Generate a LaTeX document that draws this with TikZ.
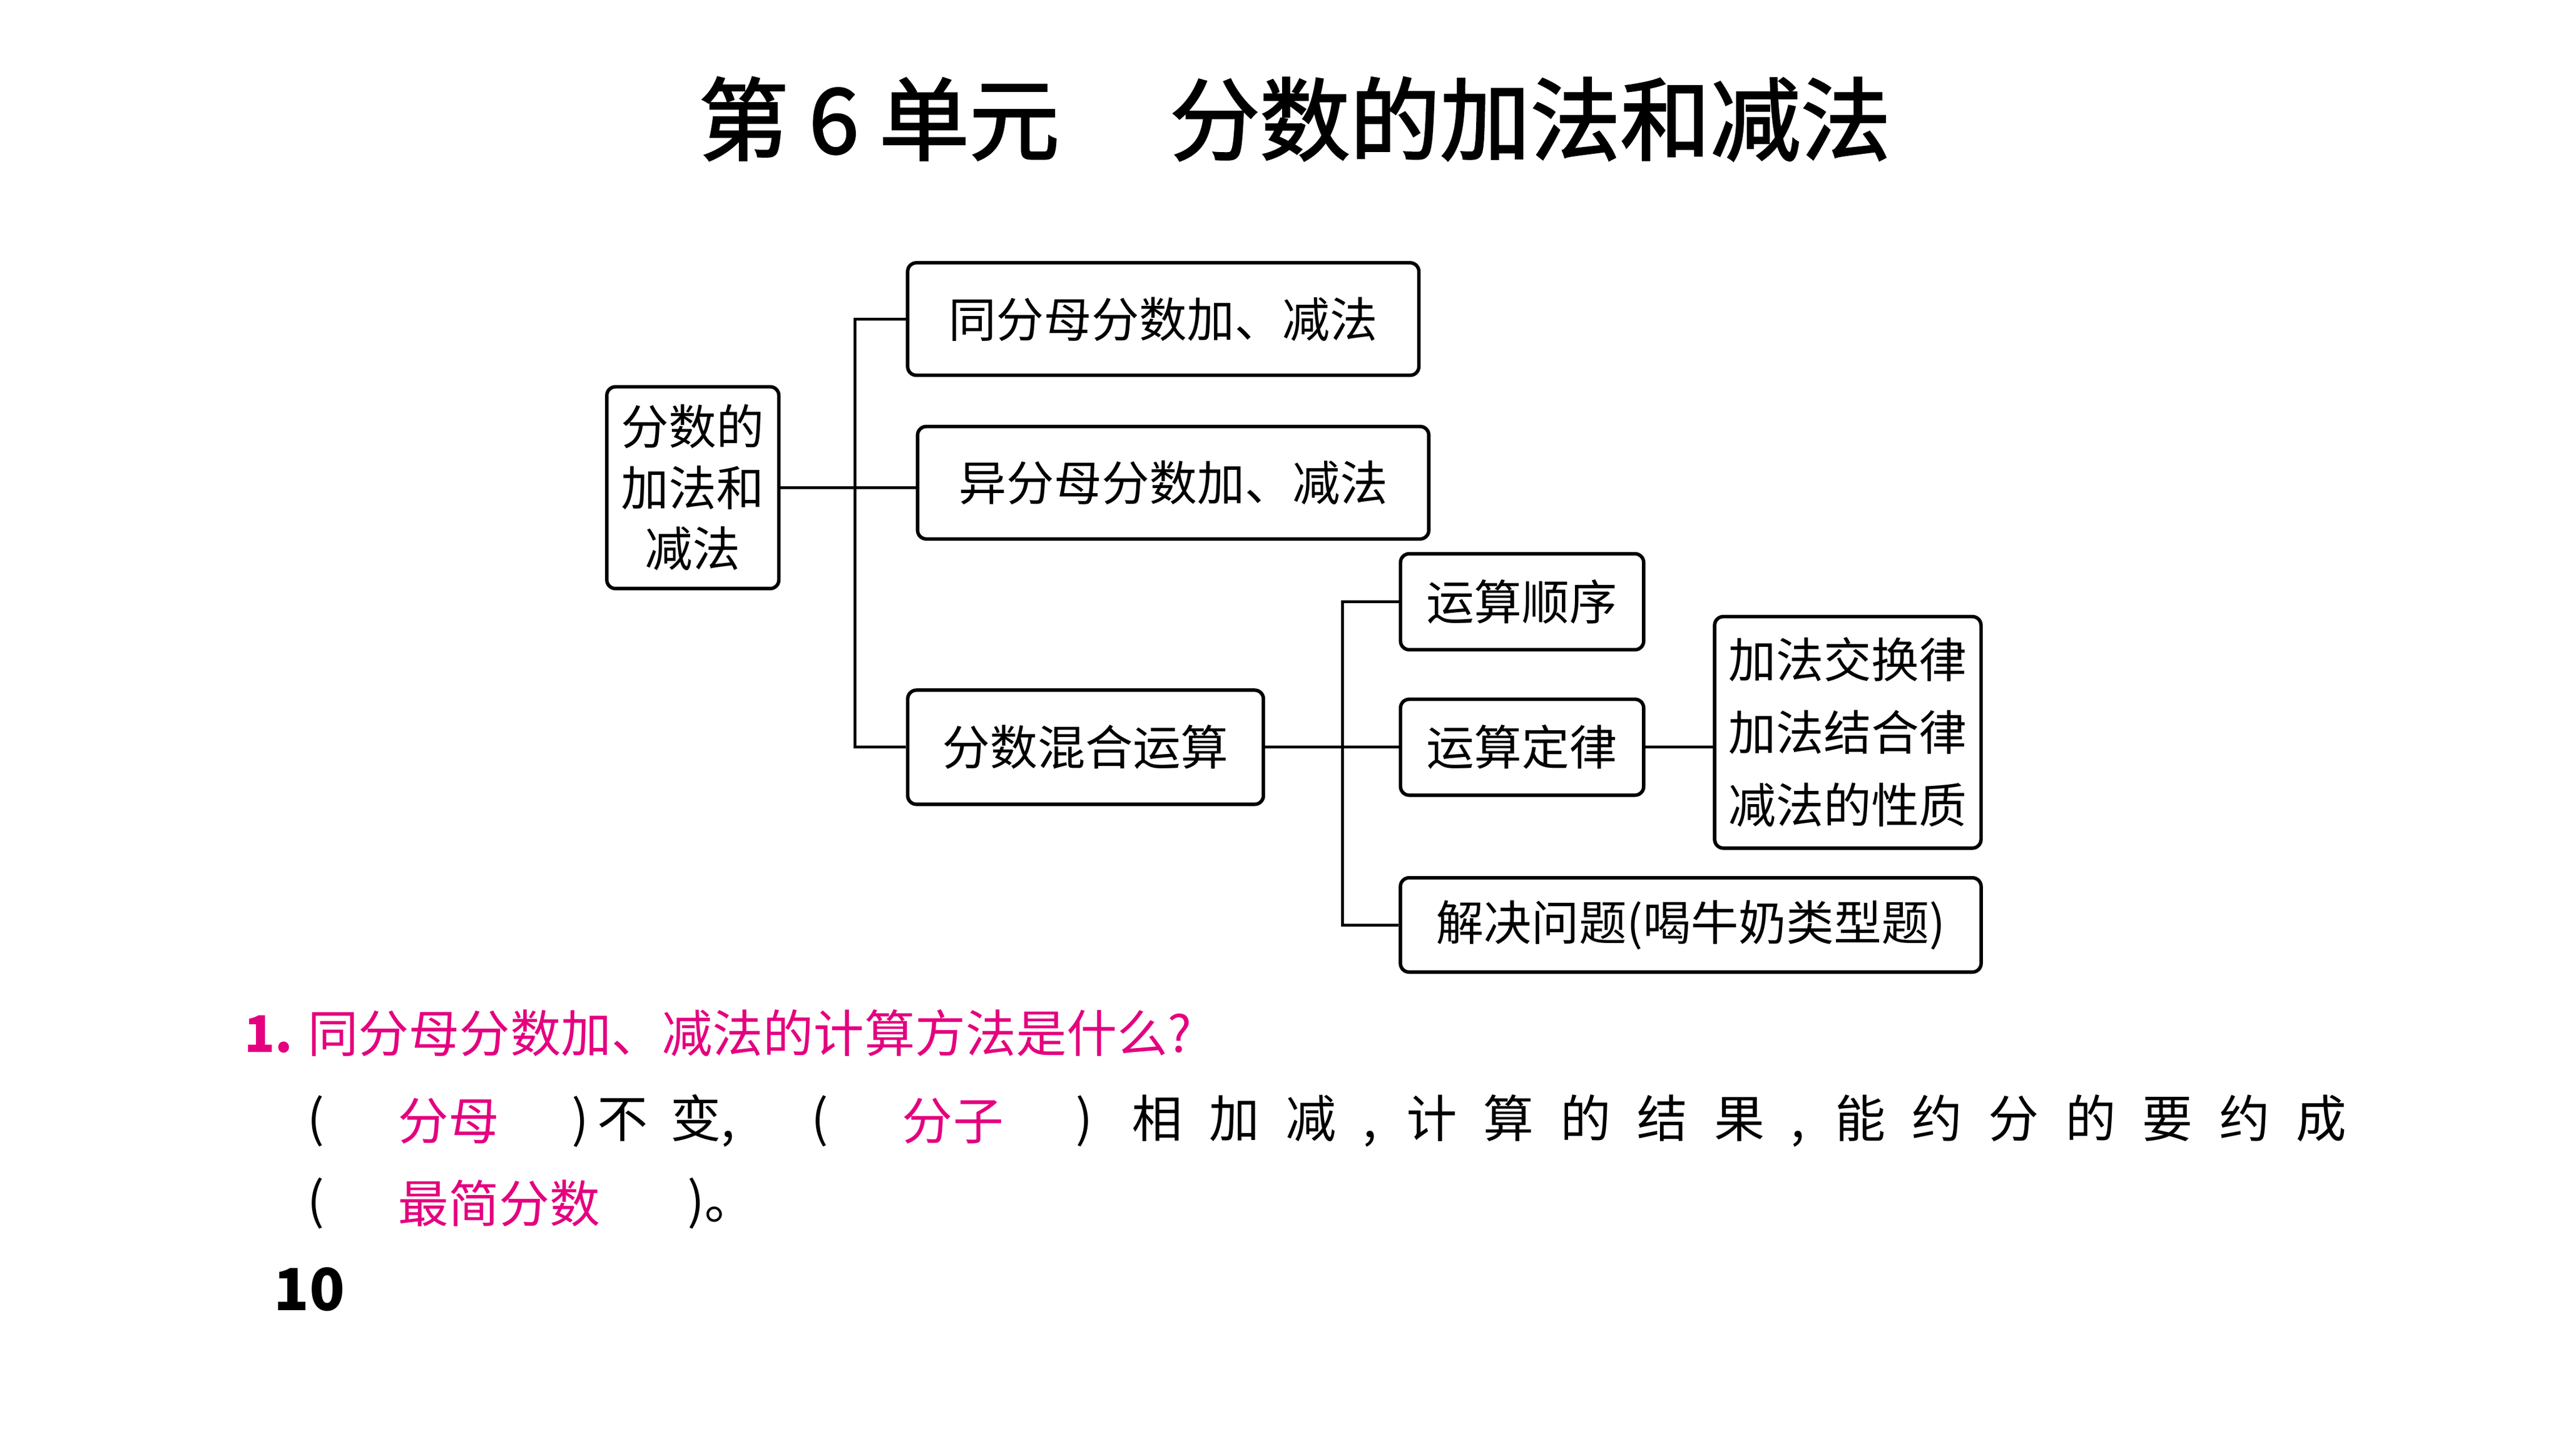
\documentclass[tikz,border=0pt]{standalone}
\usepackage{fontspec}
\setmainfont{Noto Sans CJK SC}
\newfontfamily\titlefont{Noto Sans CJK SC}[FakeBold=2]
\usetikzlibrary{positioning}
\definecolor{rosered}{RGB}{228,0,127}
\tikzset{
  boxes/.style={rectangle, draw=black, rounded corners=1.5pt, line width=0.6pt, inner sep=0pt, font=\fontsize{8.2}{10.5}\selectfont},
  line/.style={line width=0.5pt},
  txt/.style={anchor=west, inner sep=0pt, font=\fontsize{8.7}{11}\selectfont},
}
\begin{document}
\begin{tikzpicture}[x=0.01cm, y=-0.01cm]
\useasboundingbox (0,0) rectangle (1550,880.7);
% Title
\node (title) at (783,72) {\titlefont\fontsize{15.5}{18}\selectfont 第 6 单元\quad\ 分数的加法和减法};

% Draw Boxes
\node (root) [boxes, minimum width=1.04cm, minimum height=1.22cm, align=center] at (419,295) {分数的\\加法和\\减法};
\node (same) [boxes, minimum width=3.09cm, minimum height=0.68cm] at (703.5,193) {同分母分数加、减法};
\node (diff) [boxes, minimum width=3.09cm, minimum height=0.68cm] at (709.5,292) {异分母分数加、减法};
\node (mix) [boxes, minimum width=2.15cm, minimum height=0.69cm] at (656.5,452) {分数混合运算};
\node (order) [boxes, minimum width=1.47cm, minimum height=0.58cm] at (920.5,364) {运算顺序};
\node (law) [boxes, minimum width=1.47cm, minimum height=0.58cm] at (920.5,452) {运算定律};
\node (solve) [boxes, minimum width=3.51cm, minimum height=0.57cm] at (1022.5,559.5) {解决问题(喝牛奶类型题)};
\node (laws) [boxes, minimum width=1.61cm, minimum height=1.40cm, align=left] at (1117.5,443) {加法交换律\\[2pt]加法结合律\\[2pt]减法的性质};

% Draw Lines
\coordinate (j1) at (517,295);
\coordinate (j2) at (812,452);
\draw[line] (root.east) -- (j1);
\draw[line] (same.west) -| (j1) |- (mix.west);
\draw[line] (j1) -- (diff.west |- j1);
\draw[line] (mix.east) -- (law.west);
\draw[line] (order.west) -| (j2) |- (solve.west);
\draw[line] (law.east) -- (laws.west |- law.east);

% Question
\node (q) [txt, text=rosered] at (147,625) {\textbf{1.} 同分母分数加、减法的计算方法是什么?};
\node (p1) [txt] at (185,678) {(};
\node (a1) [txt, text=rosered] at (240,678) {分母};
\node (p2) [txt] at (345,678) {)\,不\ \ 变,};
\node (p3) [txt] at (490,678) {(};
\node (a2) [txt, text=rosered] at (545,678) {分子};
\node (p4) [txt] at (650,678) {)};
\node (rest) [txt] at (684,678) {\makebox[7.34cm][s]{相 加 减 , 计 算 的 结 果 , 能 约 分 的 要 约 成}};
\node (p5) [txt] at (185,728) {(};
\node (a3) [txt, text=rosered] at (240,728) {最简分数};
\node (p6) [txt] at (415,728) {)。};
\node (page) [txt, font=\fontsize{10}{12}\selectfont\bfseries] at (165,780) {10};
\end{tikzpicture}
\end{document}
